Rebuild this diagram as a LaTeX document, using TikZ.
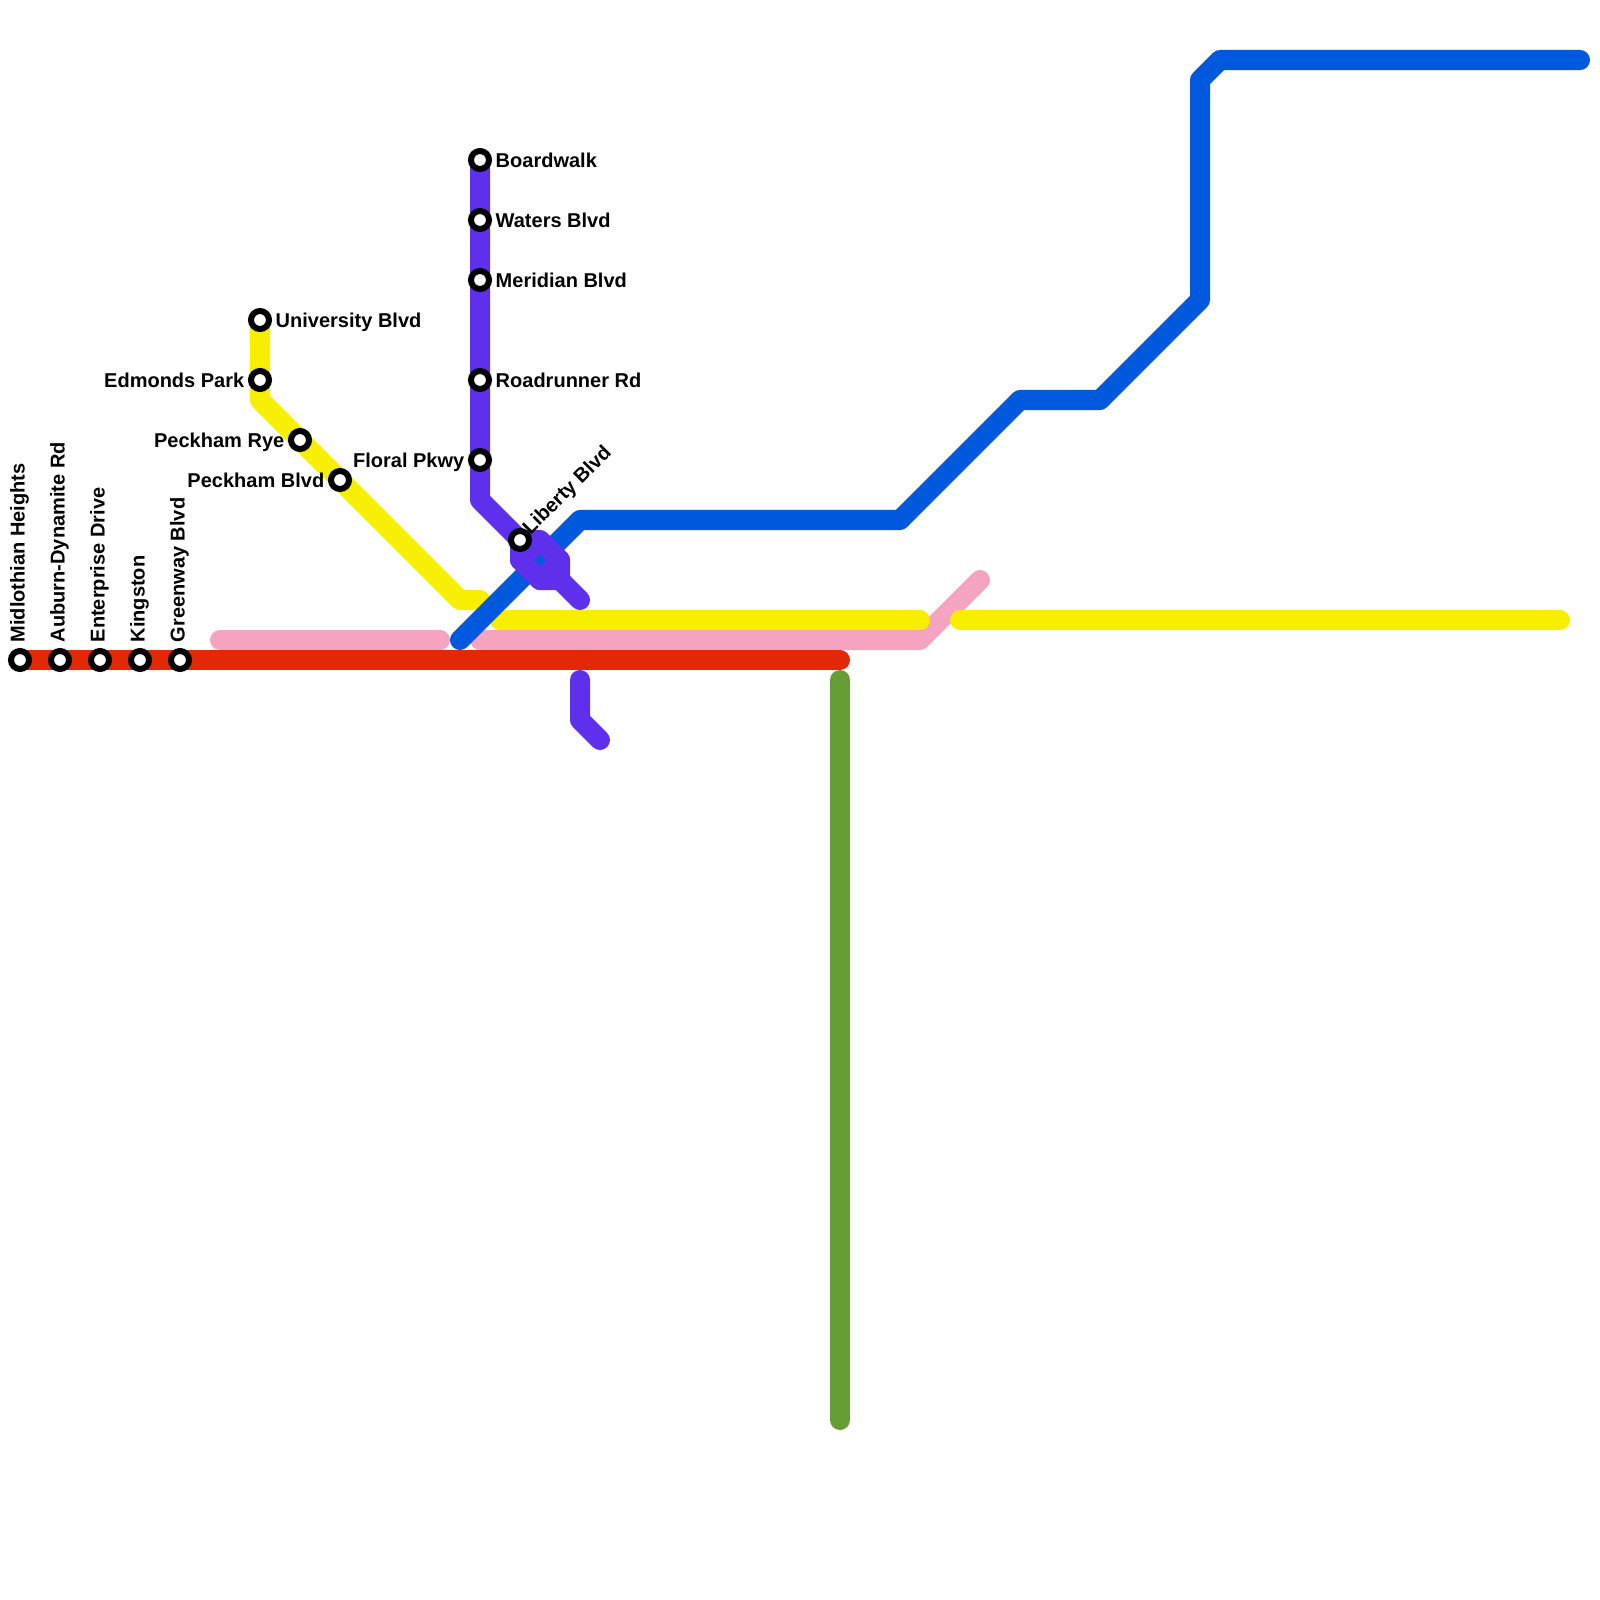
\documentclass[tikz,border=0pt]{standalone}
\usepackage{xcolor}
\usepackage{fontspec}
\setmainfont{Liberation Sans}
\usetikzlibrary{positioning}
\usetikzlibrary{backgrounds}
\definecolor{linered}{HTML}{E42805}
\definecolor{linepink}{HTML}{F4A4C0}
\definecolor{lineyellow}{HTML}{F7EE00}
\definecolor{linegreen}{HTML}{669D34}
\definecolor{lineblue}{HTML}{0059DC}
\definecolor{linepurple}{HTML}{5E30EB}

\begin{document}
\begin{tikzpicture}[
    x=0.01cm, y=-0.01cm,
    station/.style={circle, draw=black, fill=white, line width=0.06cm,
                    minimum size=0.18cm, inner sep=0pt},
    stnlabel/.style={inner sep=0pt, text height=0.143cm, text depth=0pt,
                     font=\fontsize{5.69pt}{6.8pt}\selectfont\bfseries},
    upname/.style={stnlabel, rotate=90, anchor=west},
    route/.style={line width=0.2cm, line cap=round, line join=round},
    node distance=0.03cm,
  ]
  \useasboundingbox (0, 0) rectangle (1600, 1600);

  % stations
  \node[station] (boardwalk)  at (480, 160) {};
  \node[station] (waters)     at (480, 220) {};
  \node[station] (meridian)   at (480, 280) {};
  \node[station] (roadrunner) at (480, 380) {};
  \node[station] (floral)     at (480, 460) {};
  \node[station] (liberty)    at (520, 540) {};
  \node[station] (university) at (260, 320) {};
  \node[station] (edmonds)    at (260, 380) {};
  \node[station] (rye)        at (300, 440) {};
  \node[station] (peckham)    at (340, 480) {};
  \node[station] (midlothian) at (20, 660)  {};
  \node[station] (auburn)     at (60, 660)  {};
  \node[station] (enterprise) at (100, 660) {};
  \node[station] (kingston)   at (140, 660) {};
  \node[station] (greenway)   at (180, 660) {};

  % names
  \node[stnlabel, right=of boardwalk]  (boardwalktxt)  {Boardwalk};
  \node[stnlabel, right=of waters]     (waterstxt)     {Waters Blvd};
  \node[stnlabel, right=of meridian]   (meridiantxt)   {Meridian Blvd};
  \node[stnlabel, right=of roadrunner] (roadrunnertxt) {Roadrunner Rd};
  \node[stnlabel, left=of floral]      (floraltxt)     {Floral Pkwy};
  \node[stnlabel, right=of university] (universitytxt) {University Blvd};
  \node[stnlabel, left=of edmonds]     (edmondstxt)    {Edmonds Park};
  \node[stnlabel, left=of rye]         (ryetxt)        {Peckham Rye};
  \node[stnlabel, left=of peckham]     (peckhamtxt)    {Peckham Blvd};
  \node[stnlabel, rotate=45, anchor=west] (libertytxt) at (525, 531) {Liberty Blvd};
  \node[upname] (midlothiantxt) at (17.5, 643)  {Midlothian Heights};
  \node[upname] (auburntxt)     at (57.5, 643)  {Auburn-Dynamite Rd};
  \node[upname] (enterprisetxt) at (97.5, 643)  {Enterprise Drive};
  \node[upname] (kingstontxt)   at (137.5, 643) {Kingston};
  \node[upname] (greenwaytxt)   at (177.5, 643) {Greenway Blvd};

  % bends and free ends
  \coordinate (pinkA)   at (220, 640);
  \coordinate (pinkB)   at (440, 640);
  \coordinate (pinkC)   at (480, 640);
  \coordinate (pinkD)   at (920, 640);
  \coordinate (pinkE)   at (980, 580);
  \coordinate (yelA)    at (260, 400);
  \coordinate (yelB)    at (460, 600);
  \coordinate (yelC)    at (480, 600);
  \coordinate (yelD)    at (500, 620);
  \coordinate (yelE)    at (920, 620);
  \coordinate (yelF)    at (960, 620);
  \coordinate (yelG)    at (1560, 620);
  \coordinate (redEnd)  at (840, 660);
  \coordinate (grnA)    at (840, 680);
  \coordinate (grnB)    at (840, 1420);
  \coordinate (bluA)    at (460, 640);
  \coordinate (bluB)    at (580, 520);
  \coordinate (bluC)    at (900, 520);
  \coordinate (bluD)    at (1020, 400);
  \coordinate (bluE)    at (1100, 400);
  \coordinate (bluF)    at (1200, 300);
  \coordinate (bluG)    at (1200, 80);
  \coordinate (bluH)    at (1220, 60);
  \coordinate (bluI)    at (1580, 60);
  \coordinate (purA)    at (480, 500);
  \coordinate (purB)    at (540, 540);
  \coordinate (purC)    at (560, 560);
  \coordinate (purD)    at (560, 580);
  \coordinate (purE)    at (540, 580);
  \coordinate (purF)    at (520, 560);
  \coordinate (purG)    at (580, 600);
  \coordinate (purH)    at (580, 680);
  \coordinate (purI)    at (580, 720);
  \coordinate (purJ)    at (600, 740);

  % lines go under the stations
  \begin{pgfonlayer}{background}
    \draw[route, linepink] (pinkA) -- (pinkB);
    \draw[route, linepink] (pinkC) -- (pinkD) -- (pinkE);
    \draw[route, lineyellow] (university.center) -- (edmonds.center) -- (yelA)
      -- (rye.center) -- (peckham.center) -- (yelB) -- (yelC);
    \draw[route, lineyellow] (yelD) -- (yelE);
    \draw[route, lineyellow] (yelF) -- (yelG);
    \draw[route, linered] (midlothian.center) -- (redEnd);
    \draw[route, linegreen] (grnA) -- (grnB);
    \draw[route, lineblue] (bluA) -- (bluB) -- (bluC) -- (bluD) -- (bluE)
      -- (bluF) -- (bluG) -- (bluH) -- (bluI);
    \draw[route, linepurple] (boardwalk.center) -- (purA) -- (liberty.center)
      -- (purB) -- (purC) -- (purD) -- (purE) -- (purF) -- (purB);
    \draw[route, linepurple] (liberty.center) -- (purF);
    \draw[route, linepurple] (purC) -- (purE);
    \draw[route, linepurple] (purD) -- (purG);
    \draw[route, linepurple] (purH) -- (purI) -- (purJ);
  \end{pgfonlayer}
\end{tikzpicture}
\end{document}
